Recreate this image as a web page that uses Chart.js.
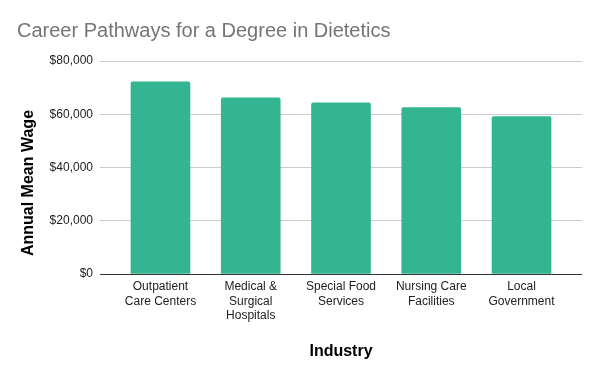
<!DOCTYPE html>
<html>
<head>
<meta charset="utf-8">
<script src="https://cdn.jsdelivr.net/npm/chart.js@4/dist/chart.umd.min.js"></script>
<style>
  html, body { margin: 0; padding: 0; background: #fff; }
  #wrap { width: 600px; height: 371px; }
</style>
</head>
<body>
<div id="wrap"><canvas id="wageChart"></canvas></div>
<script>
const industries = [
    ['Outpatient', 'Care Centers'],
    ['Medical &', 'Surgical', 'Hospitals'],
    ['Special Food', 'Services'],
    ['Nursing Care', 'Facilities'],
    ['Local', 'Government']
];
const meanWages = [72200, 66200, 64300, 62500, 59100];
const wageTicks = [0, 20000, 40000, 60000, 80000];

const fontFamily = '"Liberation Sans", Arial, sans-serif';

// y axis title is centred a bit lower than the plot area in the original
const yTitlePlugin = {
    id: 'yTitle',
    afterDraw(chart) {
        const ctx = chart.ctx;
        ctx.save();
        ctx.translate(29, 183);
        ctx.rotate(-Math.PI / 2);
        ctx.font = 'bold 16px ' + fontFamily;
        ctx.fillStyle = '#000';
        ctx.textAlign = 'center';
        ctx.textBaseline = 'middle';
        ctx.fillText('Annual Mean Wage', 0, 0);
        ctx.restore();
    }
};

document.addEventListener('DOMContentLoaded', function() {
    new Chart(document.getElementById('wageChart'), {
        type: 'bar',
        data: {
            datasets: [{
                data: meanWages.map((w, i) => ({ x: i, y: w })),
                backgroundColor: '#33b592',
                borderWidth: 0,
                borderRadius: 2,
                borderSkipped: 'start',
                barThickness: 59
            }]
        },
        options: {
            responsive: true,
            maintainAspectRatio: false,
            animation: false,
            layout: { padding: { left: 17, right: 18, top: 0, bottom: 0 } },
            plugins: {
                legend: { display: false },
                tooltip: { enabled: false },
                title: {
                    display: true,
                    text: 'Career Pathways for a Degree in Dietetics',
                    align: 'start',
                    color: '#757575',
                    font: { family: fontFamily, size: 20, weight: 'normal', lineHeight: 1.2 },
                    padding: { top: 19, bottom: 18 }
                }
            },
            scales: {
                x: {
                    type: 'linear',
                    min: -0.67,
                    max: 4.67,
                    offset: false,
                    grid: { display: false, offset: false, drawTicks: false },
                    border: { display: false },
                    afterBuildTicks: scale => {
                        scale.ticks = industries.map((_, i) => ({ value: i }));
                    },
                    afterFit: scale => { scale.height = 97; },
                    ticks: {
                        autoSkip: false,
                        maxRotation: 0,
                        padding: 6,
                        color: '#222',
                        font: { family: fontFamily, size: 12, lineHeight: 1.18 },
                        callback: value => industries[value]
                    },
                    title: {
                        display: true,
                        text: 'Industry',
                        color: '#000',
                        font: { family: fontFamily, size: 16, weight: 'bold', lineHeight: 1.2 },
                        padding: { top: 0, bottom: 10 }
                    }
                },
                y: {
                    min: 0,
                    max: 80000,
                    afterBuildTicks: scale => {
                        scale.ticks = wageTicks.map(v => ({ value: v }));
                    },
                    afterFit: scale => { scale.width = 83; },
                    border: { display: false },
                    grid: {
                        drawTicks: false,
                        color: ctx => ctx.tick && ctx.tick.value === 0 ? '#333' : '#cccccc'
                    },
                    ticks: {
                        padding: 7,
                        color: '#222',
                        font: { family: fontFamily, size: 12 },
                        callback: value => '$' + value.toLocaleString('en-US')
                    }
                }
            }
        },
        plugins: [yTitlePlugin]
    });
});
</script>
</body>
</html>
